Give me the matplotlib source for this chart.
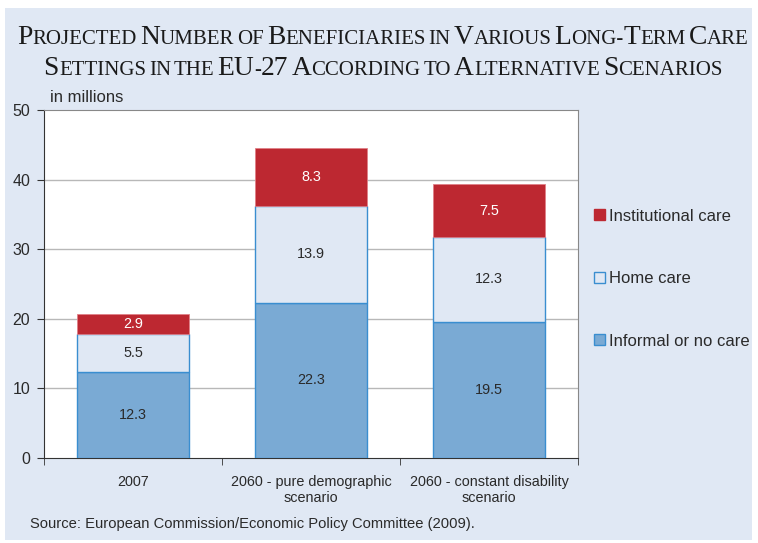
import matplotlib
matplotlib.use("Agg")
import matplotlib.pyplot as plt
from matplotlib.patches import Rectangle, Patch
import numpy as np

categories = ["2007", "2060 - pure demographic\nscenario", "2060 - constant disability\nscenario"]
informal = [12.3, 22.3, 19.5]
home = [5.5, 13.9, 12.3]
institutional = [2.9, 8.3, 7.5]
series_names = ["Informal or no care", "Home care", "Institutional care"]
yticks = [0, 10, 20, 30, 40, 50]
title_lines = ["Projected Number of Beneficiaries in Various Long-Term Care",
               "Settings in the EU-27 According to Alternative Scenarios"]
source = "Source: European Commission/Economic Policy Committee (2009)."

plt.rcParams['font.family'] = ['Liberation Sans', 'DejaVu Sans']

W, H = 758, 543
fig = plt.figure(figsize=(W / 100, H / 100), dpi=100)
fig.patch.set_facecolor("white")
bg = "#e0e8f4"
fig.patches.append(Rectangle((5 / W, 1 - 540 / H), 747 / W, 532 / H, transform=fig.transFigure,
                             facecolor=bg, edgecolor="none", zorder=-10))

ax = fig.add_axes([44 / W, 1 - 458 / H, 534 / W, 348 / H])
ax.set_facecolor("white")

red = "#bd2831"
light = "#e0e8f4"
mid = "#7aaad4"
edge = "#3a8ed0"
txt = "#2a2a2a"

x = np.arange(len(categories))
w = 0.625
ax.bar(x, informal, w, color=mid, edgecolor=edge, linewidth=1, zorder=3)
ax.bar(x, home, w, bottom=informal, color=light, edgecolor=edge, linewidth=1, zorder=3)
bot3 = np.array(informal) + np.array(home)
ax.bar(x, institutional, w, bottom=bot3, color=red, edgecolor="#e08088", linewidth=0.6, zorder=3)

for i in range(len(categories)):
    ax.text(x[i], informal[i] / 2, f"{informal[i]}", ha="center", va="center", fontsize=10.4, color=txt, zorder=4)
    ax.text(x[i], informal[i] + home[i] / 2, f"{home[i]}", ha="center", va="center", fontsize=10.4, color=txt, zorder=4)
    ax.text(x[i], bot3[i] + institutional[i] / 2, f"{institutional[i]}", ha="center", va="center", fontsize=10.4, color="white", zorder=4)

ax.set_xlim(-0.5, len(categories) - 0.5)
ax.set_ylim(0, 50)
ax.set_yticks(yticks)
ax.set_yticklabels([str(t) for t in yticks], fontsize=11.5, color=txt)
ax.set_xticks(x)
ax.set_xticklabels(categories, fontsize=10.4, color=txt)
ax.set_xticks(np.arange(-0.5, len(categories), 1), minor=True)
ax.tick_params(axis="x", which="major", length=0, pad=12)
ax.tick_params(axis="x", which="minor", length=5, direction="out", color="#333333")
ax.tick_params(axis="y", length=5, direction="out", color="#333333", pad=5)
for yv in yticks[1:-1]:
    ax.axhline(yv, color="#b8b8b8", linewidth=1, zorder=1)
ax.spines["left"].set_color("#333333")
ax.spines["bottom"].set_color("#333333")
ax.spines["top"].set_color("#888888")
ax.spines["right"].set_color("#888888")

fig.text(50 / W, 1 - 98 / H, "in millions", fontsize=12, color=txt, va="center")
fig.text(30 / W, 1 - 524 / H, source, fontsize=10.6, color=txt, va="center")

handles = [Patch(facecolor=red, edgecolor=red), Patch(facecolor=light, edgecolor=edge), Patch(facecolor=mid, edgecolor=edge)]
leg = ax.legend(handles, series_names[::-1], loc="center left", bbox_to_anchor=(1.03, 0.515),
                frameon=False, fontsize=12, handlelength=0.65, handleheight=0.65, handletextpad=0.25,
                labelspacing=2.85, borderaxespad=0, borderpad=0)
for t in leg.get_texts():
    t.set_color(txt)

# Title in small caps
renderer = fig.canvas.get_renderer()
BIG, SMALL = 19.8, 15.0
tfam = ['Liberation Serif', 'DejaVu Serif']

def measure(s, size):
    t = fig.text(0, 0, s, fontsize=size, family=tfam)
    wpx = t.get_window_extent(renderer).width
    t.remove()
    return wpx

def runs(line):
    out = []
    for ch in line:
        big = ch.isupper() or ch.isdigit()
        size = BIG if big else SMALL
        c = ch.upper()
        if out and out[-1][1] == size and ch != " " and out[-1][0] != " ":
            out[-1][0] += c
        else:
            out.append([c, size])
    return out

space_w = measure("A A", SMALL) - measure("AA", SMALL)
for line, ybase in zip(title_lines, [44, 75]):
    rs = runs(line)
    widths = [space_w if s == " " else measure(s, sz) for s, sz in rs]
    total = sum(widths)
    xpos = 383 - total / 2
    for (s, sz), wd in zip(rs, widths):
        if s != " ":
            fig.text(xpos / W, 1 - ybase / H, s, fontsize=sz, family=tfam, va="baseline", ha="left", color="#1a1a1a")
        xpos += wd

fig.savefig("out.png", dpi=100, facecolor=fig.get_facecolor())
